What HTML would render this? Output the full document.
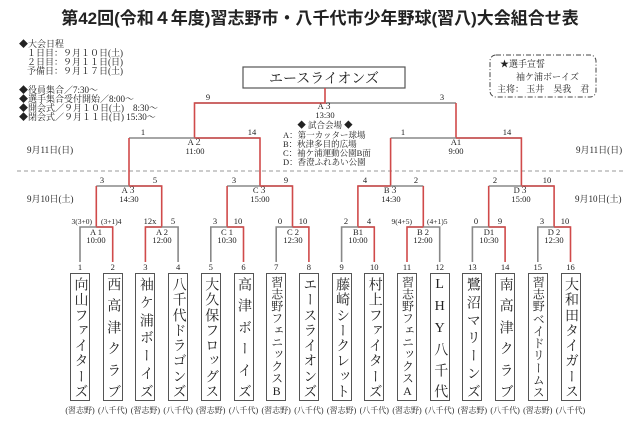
<!DOCTYPE html>
<html><head><meta charset="utf-8"><style>
html,body{margin:0;padding:0;background:#fff;}
body{width:640px;height:446px;position:relative;overflow:hidden;font-family:"Liberation Serif","Noto Serif CJK SC","Noto Sans CJK JP",serif;color:#222;}
svg{position:absolute;left:0;top:0;}
.box{position:absolute;top:273px;width:20px;height:128px;border:1.3px solid #555;display:flex;flex-direction:column;justify-content:space-between;align-items:center;padding:3px 0 2px;box-sizing:border-box;font-size:14px;line-height:15px;overflow:hidden;}
.box.l{font-size:12px;line-height:11px;padding:2px 0 2px;}
.box span{writing-mode:vertical-rl;text-orientation:upright;display:block;}
.org{position:absolute;top:405px;width:40px;text-align:center;font-size:8px;}
</style></head><body>
<svg width="640" height="446" xmlns="http://www.w3.org/2000/svg" font-family="Liberation Serif, Noto Serif CJK SC, serif" fill="#222">
<text x="320" y="24" font-size="17" font-weight="bold" text-anchor="middle" font-family="Liberation Sans, Noto Sans CJK JP, sans-serif">第42回(令和４年度)習志野市・八千代市少年野球(習八)大会組合せ表</text>
<g font-size="9">
<text x="19" y="47">◆大会日程</text>
<text x="27" y="56">１日目：９月１０日(土)</text>
<text x="27" y="65">２日目：９月１１日(日)</text>
<text x="27" y="74">予備日：９月１７日(土)</text>
<text x="19" y="93">◆役員集合／7:30～</text>
<text x="19" y="102">◆選手集合受付開始／8:00～</text>
<text x="19" y="111">◆開会式／９月１０日(土)　8:30～</text>
<text x="19" y="120">◆閉会式／９月１１日(日) 15:30～</text>
<text x="27" y="153">9月11日(日)</text>
<text x="576" y="153">9月11日(日)</text>
<text x="27" y="202">9月10日(土)</text>
<text x="575" y="202">9月10日(土)</text>
</g>
<rect x="243" y="67" width="162" height="21" fill="#fff" stroke="#555" stroke-width="1.2"/>
<text x="324" y="83" font-size="14" text-anchor="middle">エースライオンズ</text>
<rect x="490" y="55" width="106" height="42" rx="6" fill="none" stroke="#444" stroke-width="1" stroke-dasharray="5,2,1,2"/>
<g font-size="9">
<text x="500" y="67">★選手宣誓</text>
<text x="516" y="80">袖ケ浦ボーイズ</text>
<text x="497" y="92">主将：  玉井　昊我　君</text>
</g>
<line x1="17" y1="171" x2="625" y2="171" stroke="#999" stroke-dasharray="4,3" stroke-width="1"/>
<g fill="none" stroke-width="1.6">
<line x1="194.5" y1="103" x2="456" y2="103" stroke="#888"/>
<polyline points="194.5,138 194.5,103 325,103 325,88" stroke="#d04a4a"/>
<line x1="456" y1="103" x2="456" y2="138" stroke="#d04a4a"/>
<line x1="129" y1="138" x2="260" y2="138" stroke="#888"/>
<line x1="129" y1="138" x2="129" y2="186" stroke="#d04a4a"/>
<polyline points="260,186 260,138 194.5,138" stroke="#d04a4a"/>
<line x1="390.6" y1="138" x2="521.4" y2="138" stroke="#888"/>
<line x1="390.6" y1="138" x2="390.6" y2="186" stroke="#d04a4a"/>
<polyline points="521.4,186 521.4,138 456,138" stroke="#d04a4a"/>
<line x1="96.3" y1="186" x2="161.7" y2="186" stroke="#888"/>
<line x1="96.3" y1="186" x2="96.3" y2="227" stroke="#d04a4a"/>
<polyline points="161.7,227 161.7,186 129,186" stroke="#d04a4a"/>
<line x1="227.1" y1="186" x2="292.5" y2="186" stroke="#888"/>
<line x1="227.1" y1="186" x2="227.1" y2="227" stroke="#d04a4a"/>
<polyline points="292.5,227 292.5,186 259.8,186" stroke="#d04a4a"/>
<line x1="357.9" y1="186" x2="423.3" y2="186" stroke="#888"/>
<line x1="423.3" y1="186" x2="423.3" y2="227" stroke="#d04a4a"/>
<polyline points="357.9,227 357.9,186 390.6,186" stroke="#d04a4a"/>
<line x1="488.7" y1="186" x2="554.1" y2="186" stroke="#888"/>
<line x1="488.7" y1="186" x2="488.7" y2="227" stroke="#d04a4a"/>
<polyline points="554.1,227 554.1,186 521.4,186" stroke="#d04a4a"/>
<g stroke="#888">
<polyline points="80,262 80,227 112.7,227"/>
<polyline points="178.1,262 178.1,227 145.4,227"/>
<polyline points="210.8,262 210.8,227 243.5,227"/>
<polyline points="276.2,262 276.2,227 308.9,227"/>
<polyline points="341.6,262 341.6,227 374.3,227"/>
<polyline points="439.7,262 439.7,227 407,227"/>
<polyline points="472.4,262 472.4,227 505.1,227"/>
<polyline points="537.8,262 537.8,227 570.5,227"/>
</g>
<g stroke="#d04a4a">
<polyline points="112.7,262 112.7,227 96.3,227"/>
<polyline points="145.4,262 145.4,227 161.7,227"/>
<polyline points="243.5,262 243.5,227 227.1,227"/>
<polyline points="308.9,262 308.9,227 292.5,227"/>
<polyline points="374.3,262 374.3,227 357.9,227"/>
<polyline points="407,262 407,227 423.3,227"/>
<polyline points="505.1,262 505.1,227 488.7,227"/>
<polyline points="570.5,262 570.5,227 554.1,227"/>
</g>
</g>
<g font-size="8.5" text-anchor="middle">
<text x="325" y="109">A３</text><text x="325" y="118">13:30</text>
<text x="325" y="128">◆ 試合会場 ◆</text>
<text x="208" y="100">9</text><text x="442" y="100">3</text>
<text x="143" y="135">1</text><text x="252" y="135">14</text>
<text x="195" y="145">A２</text><text x="195" y="154">11:00</text>
<text x="403" y="135">1</text><text x="507" y="135">14</text>
<text x="456" y="145">A1</text><text x="456" y="154">9:00</text>
<text x="102" y="183">3</text><text x="155" y="183">5</text>
<text x="129" y="193">A３</text><text x="129" y="202">14:30</text>
<text x="234" y="183">3</text><text x="286" y="183">9</text>
<text x="260" y="193">C３</text><text x="260" y="202">15:00</text>
<text x="365" y="183">4</text><text x="416" y="183">2</text>
<text x="391" y="193">B３</text><text x="391" y="202">14:30</text>
<text x="495" y="183">2</text><text x="547" y="183">10</text>
<text x="521" y="193">D３</text><text x="521" y="202">15:00</text>
<text x="150" y="224">12x</text><text x="173" y="224">5</text>
<text x="215" y="224">3</text><text x="238" y="224">10</text>
<text x="280" y="224">0</text><text x="303" y="224">10</text>
<text x="346" y="224">2</text><text x="369" y="224">4</text>
<text x="476" y="224">0</text><text x="500" y="224">9</text>
<text x="542" y="224">3</text><text x="565" y="224">10</text>
<text x="96" y="235">A 1</text><text x="96" y="243">10:00</text>
<text x="162" y="235">A 2</text><text x="162" y="243">12:00</text>
<text x="227" y="235">C 1</text><text x="227" y="243">10:30</text>
<text x="293" y="235">C 2</text><text x="293" y="243">12:30</text>
<text x="358" y="235">B1</text><text x="358" y="243">10:00</text>
<text x="423" y="235">B 2</text><text x="423" y="243">12:00</text>
<text x="489" y="235">D1</text><text x="489" y="243">10:30</text>
<text x="554" y="235">D 2</text><text x="554" y="243">12:30</text>
</g>
<g font-size="7.5">
<text x="92" y="224" text-anchor="end">3(3+0)</text><text x="101" y="224">(3+1)4</text>
<text x="412" y="224" text-anchor="end">9(4+5)</text><text x="427" y="224">(4+1)5</text>
</g>
<g font-size="8.5">
<text x="283" y="138">A：第一カッター球場</text>
<text x="283" y="147">B：秋津多目的広場</text>
<text x="283" y="156">C：袖ケ浦運動公園B面</text>
<text x="283" y="165">D：香澄ふれあい公園</text>
</g>
<g font-size="8.5" text-anchor="middle">
<text x="80" y="270">1</text><text x="112.7" y="270">2</text><text x="145.4" y="270">3</text><text x="178.1" y="270">4</text>
<text x="210.8" y="270">5</text><text x="243.5" y="270">6</text><text x="276.2" y="270">7</text><text x="308.9" y="270">8</text>
<text x="341.6" y="270">9</text><text x="374.3" y="270">10</text><text x="407" y="270">11</text><text x="439.7" y="270">12</text>
<text x="472.4" y="270">13</text><text x="505.1" y="270">14</text><text x="537.8" y="270">15</text><text x="570.5" y="270">16</text>
</g>
</svg>
<div class="box" style="left:70px"><span>向</span><span>山</span><span>フ</span><span>ァ</span><span>イ</span><span>タ</span><span>ー</span><span>ズ</span></div>
<div class="box" style="left:102.7px"><span>西</span><span>高</span><span>津</span><span>ク</span><span>ラ</span><span>ブ</span></div>
<div class="box" style="left:135.4px"><span>袖</span><span>ケ</span><span>浦</span><span>ボ</span><span>ー</span><span>イ</span><span>ズ</span></div>
<div class="box" style="left:168.1px"><span>八</span><span>千</span><span>代</span><span>ド</span><span>ラ</span><span>ゴ</span><span>ン</span><span>ズ</span></div>
<div class="box" style="left:200.8px"><span>大</span><span>久</span><span>保</span><span>フ</span><span>ロ</span><span>ッ</span><span>グ</span><span>ス</span></div>
<div class="box" style="left:233.5px"><span>高</span><span>津</span><span>ボ</span><span>ー</span><span>イ</span><span>ズ</span></div>
<div class="box l" style="left:266.2px"><span>習</span><span>志</span><span>野</span><span>フ</span><span>ェ</span><span>ニ</span><span>ッ</span><span>ク</span><span>ス</span><span>B</span></div>
<div class="box" style="left:298.9px"><span>エ</span><span>ー</span><span>ス</span><span>ラ</span><span>イ</span><span>オ</span><span>ン</span><span>ズ</span></div>
<div class="box" style="left:331.6px"><span>藤</span><span>崎</span><span>シ</span><span>ー</span><span>ク</span><span>レ</span><span>ッ</span><span>ト</span></div>
<div class="box" style="left:364.3px"><span>村</span><span>上</span><span>フ</span><span>ァ</span><span>イ</span><span>タ</span><span>ー</span><span>ズ</span></div>
<div class="box l" style="left:397px"><span>習</span><span>志</span><span>野</span><span>フ</span><span>ェ</span><span>ニ</span><span>ッ</span><span>ク</span><span>ス</span><span>A</span></div>
<div class="box" style="left:429.7px"><span>L</span><span>H</span><span>Y</span><span>八</span><span>千</span><span>代</span></div>
<div class="box" style="left:462.4px"><span>鷺</span><span>沼</span><span>マ</span><span>リ</span><span>ー</span><span>ン</span><span>ズ</span></div>
<div class="box" style="left:495.1px"><span>南</span><span>高</span><span>津</span><span>ク</span><span>ラ</span><span>ブ</span></div>
<div class="box l" style="left:527.8px"><span>習</span><span>志</span><span>野</span><span>ベ</span><span>イ</span><span>ド</span><span>リ</span><span>ー</span><span>ム</span><span>ス</span></div>
<div class="box" style="left:560.5px"><span>大</span><span>和</span><span>田</span><span>タ</span><span>イ</span><span>ガ</span><span>ー</span><span>ス</span></div>
<div class="org" style="left:60px">(習志野)</div>
<div class="org" style="left:92.7px">(八千代)</div>
<div class="org" style="left:125.4px">(習志野)</div>
<div class="org" style="left:158.1px">(八千代)</div>
<div class="org" style="left:190.8px">(習志野)</div>
<div class="org" style="left:223.5px">(八千代)</div>
<div class="org" style="left:256.2px">(習志野)</div>
<div class="org" style="left:288.9px">(八千代)</div>
<div class="org" style="left:321.6px">(習志野)</div>
<div class="org" style="left:354.3px">(八千代)</div>
<div class="org" style="left:387px">(習志野)</div>
<div class="org" style="left:419.7px">(八千代)</div>
<div class="org" style="left:452.4px">(習志野)</div>
<div class="org" style="left:485.1px">(八千代)</div>
<div class="org" style="left:517.8px">(習志野)</div>
<div class="org" style="left:550.5px">(八千代)</div>
</body></html>
